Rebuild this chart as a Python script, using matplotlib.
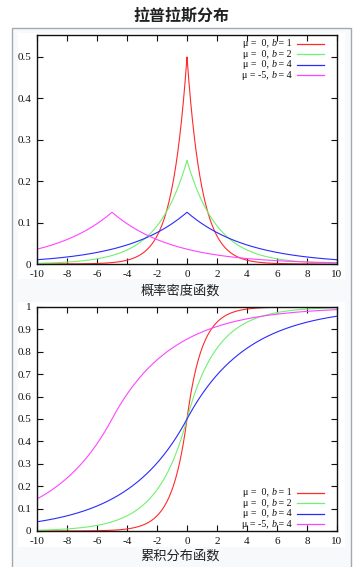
import numpy as np
import matplotlib
matplotlib.use("Agg")
import matplotlib.pyplot as plt
from matplotlib.patches import Rectangle

# Data: Laplace distribution parameters
mus = [0, 0, 0, -5]
bs = [1, 2, 4, 4]
colors = ["#ff2a2a", "#70f070", "#2a2aff", "#ff44ff"]
mu_labels = ["μ =  0,", "μ =  0,", "μ =  0,", "μ = -5,"]
b_labels = [" = 1", " = 2", " = 4", " = 4"]
xticks = [-10, -8, -6, -4, -2, 0, 2, 4, 6, 8, 10]
yticks_pdf = [0, 0.1, 0.2, 0.3, 0.4, 0.5]
yticks_cdf = [0, 0.1, 0.2, 0.3, 0.4, 0.5, 0.6, 0.7, 0.8, 0.9, 1]
title = "拉普拉斯分布"
cap_pdf = "概率密度函数"
cap_cdf = "累积分布函数"

plt.rcParams["axes.unicode_minus"] = False

W, H = 358, 567
fig = plt.figure(figsize=(W / 100, H / 100), dpi=100)
fig.patch.set_facecolor("white")

def px_rect(x0, y0, x1, y1, **kw):
    return Rectangle((x0 / W, 1 - y1 / H), (x1 - x0) / W, (y1 - y0) / H,
                     transform=fig.transFigure, figure=fig, zorder=-10, **kw)

fig.patches.append(px_rect(11.5, 27.5, 350.5, 575, facecolor="#f8f9fa", edgecolor="#a2a9b1", linewidth=1))
fig.patches.append(px_rect(18, 33, 345, 279, facecolor="white", edgecolor="none"))
fig.patches.append(px_rect(18, 302, 345, 547, facecolor="white", edgecolor="none"))

cjk = ["Noto Sans CJK SC", "DejaVu Sans"]
fig.text(181 / W, 1 - 16 / H, title, ha="center", va="center", fontsize=11.5,
         fontweight="bold", family=cjk, color="#202122")
fig.text(180 / W, 1 - 291 / H, cap_pdf, ha="center", va="center", fontsize=9.5, family=cjk, color="#202122")
fig.text(180 / W, 1 - 556 / H, cap_cdf, ha="center", va="center", fontsize=9.5, family=cjk, color="#202122")

def make_ax(top, bottom):
    ax = fig.add_axes([37 / W, 1 - bottom / H, 300 / W, (bottom - top) / H])
    ax.set_facecolor("none")
    for s in ax.spines.values():
        s.set_linewidth(1.0)
        s.set_color("#111111")
    ax.tick_params(direction="in", length=4, width=0.8, top=True, right=True,
                   labelsize=8, pad=4, colors="#111111")
    return ax

x = np.linspace(-10, 10, 2001)

ax1 = make_ax(35, 264)
for m, b, c in zip(mus, bs, colors):
    y = np.exp(-np.abs(x - m) / b) / (2 * b)
    ax1.plot(x, y, color=c, lw=0.8)
ax1.set_xlim(-10, 10)
ax1.set_ylim(0, 0.553)
ax1.set_xticks(xticks)
ax1.set_xticklabels([str(t) for t in xticks], family="Liberation Serif")
ax1.set_yticks(yticks_pdf)
ax1.set_yticklabels(["0", "0.1", "0.2", "0.3", "0.4", "0.5"], family="Liberation Serif")

ax2 = make_ax(307, 531)
for m, b, c in zip(mus, bs, colors):
    y = np.where(x < m, 0.5 * np.exp((x - m) / b), 1 - 0.5 * np.exp(-(x - m) / b))
    ax2.plot(x, y, color=c, lw=0.8)
ax2.set_xlim(-10, 10)
ax2.set_ylim(0, 1)
ax2.set_xticks(xticks)
ax2.set_xticklabels([str(t) for t in xticks], family="Liberation Serif")
ax2.set_yticks(yticks_cdf)
ax2.set_yticklabels(["0", "0.1", "0.2", "0.3", "0.4", "0.5", "0.6", "0.7", "0.8", "0.9", "1"],
                    family="Liberation Serif")

def legend(ax, ys):
    fs = 7.2
    for yy, ml, bl, c in zip(ys, mu_labels, b_labels, colors):
        t3 = ax.text(0.85, yy, bl, transform=ax.transAxes, ha="right", va="center",
                     fontsize=fs, family="Liberation Serif", color="#111111")
        t2 = ax.annotate("b", xy=(0, 0), xycoords=t3, ha="right", va="bottom",
                         fontsize=fs, family="Liberation Serif", fontstyle="italic", color="#111111")
        ax.annotate(ml + " ", xy=(0, 0), xycoords=t2, ha="right", va="bottom",
                    fontsize=fs, family="Liberation Serif", color="#111111")
        ax.plot([0.867, 0.957], [yy, yy], transform=ax.transAxes, color=c, lw=0.9, clip_on=False)

legend(ax1, [0.961, 0.915, 0.870, 0.825])
legend(ax2, [0.170, 0.124, 0.078, 0.031])

fig.savefig("out.png", dpi=100)
